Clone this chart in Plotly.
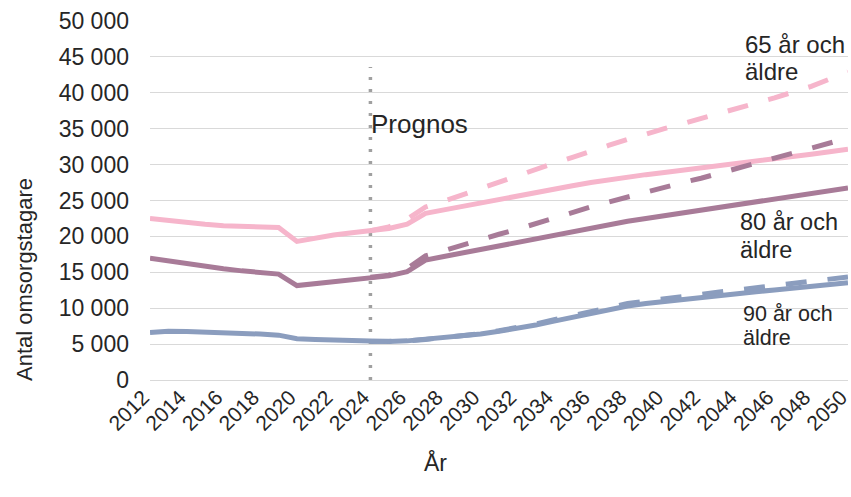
import plotly.graph_objects as go

years = list(range(2012, 2051))
forecast_years = list(range(2024, 2051))

age65_solid = [22500, 22200, 21900, 21700, 21500, 21400, 21300, 21250, 19300, 19800,
               20200, 20500, 20800, 21100, 21700, 23200, 23700, 24200, 24650, 25100,
               25600, 26100, 26600, 27050, 27500, 27900, 28250, 28600, 28900, 29200,
               29500, 29800, 30100, 30400, 30750, 31100, 31450, 31800, 32150]
age80_solid = [16950, 16550, 16150, 15800, 15500, 15200, 14950, 14750, 13150, 13400,
               13700, 13950, 14300, 14500, 15100, 16700, 17200, 17700, 18200, 18700,
               19200, 19700, 20200, 20700, 21200, 21700, 22100, 22500, 22900, 23300,
               23700, 24100, 24500, 24900, 25300, 25700, 26050, 26400, 26750]
age90_solid = [6600, 6800, 6750, 6700, 6600, 6500, 6400, 6250, 5750, 5650,
               5550, 5450, 5350, 5350, 5450, 5650, 5850, 6100, 6400, 6800,
               7200, 7650, 8200, 8750, 9300, 9850, 10300, 10650, 10950, 11250,
               11500, 11750, 12000, 12300, 12550, 12800, 13050, 13300, 13550]

age65_dashed = [20800, 21300, 22400, 24100, 24900, 25800, 26700, 27500, 28400, 29300,
                30200, 31000, 31900, 32700, 33500, 34300, 35000, 35700, 36400, 37100,
                37900, 38600, 39300, 40100, 40900, 41900, 42900]
age80_dashed = [14300, 14600, 15500, 17300, 18000, 18800, 19600, 20300, 21000, 21800,
                22600, 23400, 24100, 24800, 25500, 26100, 26800, 27500, 28100, 28800,
                29500, 30100, 30800, 31500, 32200, 32900, 33700]
age90_dashed = [5350, 5350, 5450, 5650, 5900, 6150, 6450, 6850, 7300, 7800,
                8400, 9000, 9600, 10150, 10650, 11000, 11350, 11650, 11950, 12250,
                12550, 12850, 13150, 13450, 13750, 14050, 14350]

prognos_year = 2024
prognos_line_y = [0, 43600]

x_ticks = list(range(2012, 2051, 2))
y_ticks = list(range(0, 50001, 5000))

PINK = "#F6B5CB"
PLUM = "#A87B98"
BLUE = "#8B9DBE"
FONT = "Liberation Sans, Arial, sans-serif"
TXT = "#262626"

fig = go.Figure()

# prognosis divider
fig.add_trace(go.Scatter(x=[prognos_year, prognos_year], y=prognos_line_y, mode="lines",
                         line=dict(color="#A0A0A0", width=3.5, dash="3px,9px"),
                         hoverinfo="skip", showlegend=False))

for ys, col in [(age90_solid, BLUE), (age80_solid, PLUM), (age65_solid, PINK)]:
    fig.add_trace(go.Scatter(x=years, y=ys, mode="lines",
                             line=dict(color=col, width=5), showlegend=False))
for ys, col in [(age90_dashed, BLUE), (age80_dashed, PLUM), (age65_dashed, PINK)]:
    fig.add_trace(go.Scatter(x=forecast_years, y=ys, mode="lines",
                             line=dict(color=col, width=5, dash="21px,21px"),
                             showlegend=False))

W, H = 851, 497
L, R, T, B = 150, 3, 21, 117
pw, ph = W - L - R, H - T - B

def px(x):
    return (x - L) / pw

def py(y):
    return (H - B - y) / ph

annotations = [
    dict(text="Prognos", x=px(369), y=py(124), xanchor="left", yanchor="middle", font=dict(size=26)),
    dict(text="65 år och", x=px(743), y=py(44), xanchor="left", yanchor="middle", font=dict(size=24)),
    dict(text="äldre", x=px(743), y=py(71), xanchor="left", yanchor="middle", font=dict(size=24)),
    dict(text="80 år och", x=px(738), y=py(222), xanchor="left", yanchor="middle", font=dict(size=23.5)),
    dict(text="äldre", x=px(738), y=py(250), xanchor="left", yanchor="middle", font=dict(size=23.5)),
    dict(text="90 år och", x=px(741), y=py(314), xanchor="left", yanchor="middle", font=dict(size=21.5)),
    dict(text="äldre", x=px(741), y=py(338), xanchor="left", yanchor="middle", font=dict(size=21.5)),
    dict(text="Antal omsorgstagare", x=px(24), y=py(280), xanchor="center", yanchor="middle",
         textangle=-90, font=dict(size=22)),
    dict(text="År", x=px(435), y=py(462), xanchor="center", yanchor="middle", font=dict(size=23)),
]
for a in annotations:
    a.update(xref="paper", yref="paper", showarrow=False)
    a["font"].update(family=FONT, color=TXT)

fig.update_layout(
    width=W, height=H, autosize=False,
    margin=dict(l=L, r=R, t=T, b=B, pad=0, autoexpand=False),
    paper_bgcolor="white", plot_bgcolor="white",
    separators=", ",
    font=dict(family=FONT, color=TXT, size=22),
    annotations=annotations,
    showlegend=False,
)
fig.update_xaxes(range=[2012, 2050.001], tickmode="array", tickvals=x_ticks,
                 ticktext=[str(v) for v in x_ticks], tickangle=-45,
                 showgrid=False, zeroline=False, showline=False, ticks="",
                 ticklabeloverflow="allow", automargin=False, ticklabelshift=-7,
                 tickfont=dict(size=21, family=FONT, color=TXT), ticklabelstandoff=0)
fig.update_yaxes(range=[0, 50000], tickmode="array", tickvals=y_ticks,
                 tickformat=",d", showgrid=True, gridcolor="#D9D9D9", gridwidth=1.3,
                 zeroline=True, zerolinecolor="#D9D9D9", zerolinewidth=1.3,
                 showline=False, ticks="", ticklabelstandoff=20, automargin=False,
                 tickfont=dict(size=23, family=FONT, color=TXT))

# remove the default 8px page margin so the figure fills the 851x497 window exactly
fig.write_html("out.html", config={"displayModeBar": False},
               post_script="document.body.style.margin='0';document.body.style.overflow='hidden';")
